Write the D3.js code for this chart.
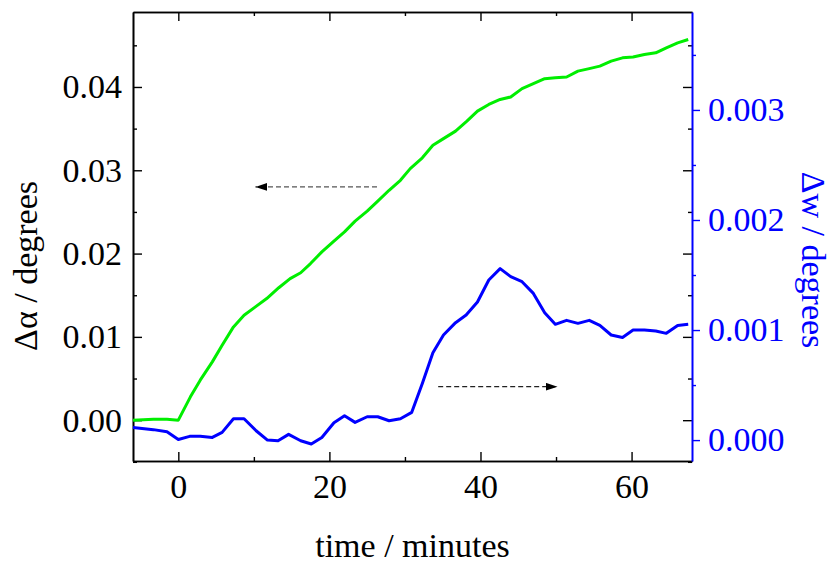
<!DOCTYPE html>
<html>
<head>
<meta charset="utf-8">
<title>delta alpha and delta w vs time</title>
<script src="https://d3js.org/d3.v7.min.js"></script>
<style>
  body { margin: 0; background: #fff; }
  svg text { font-family: "Liberation Serif", "Times New Roman", serif; }
</style>
</head>
<body>
<script>
// time (minutes) and the two measured series
var timeAlpha = [-6, -3.3, -1.5, 0, 1.6, 2.9, 4.5, 5.8, 7.3, 8.7, 10.2, 11.7, 13.3, 14.8, 16.2, 17.5, 19.0, 20.6, 22.0, 23.4, 25.0, 26.3, 27.9, 29.4, 30.7, 32.3, 33.7, 35.1, 36.7, 38.2, 39.6, 41.1, 42.6, 44.0, 45.5, 47.0, 48.5, 49.9, 51.4, 52.9, 54.4, 55.8, 57.3, 58.8, 60.2, 61.7, 63.2, 64.6, 66.1, 67.5];
var dAlpha = [0.0000, 0.0001, 0.0001, 0.0000, 0.0028, 0.0048, 0.0070, 0.0090, 0.0112, 0.0126, 0.0136, 0.0146, 0.0159, 0.0170, 0.0177, 0.0188, 0.0202, 0.0215, 0.0226, 0.0239, 0.0251, 0.0262, 0.0276, 0.0288, 0.0302, 0.0315, 0.0330, 0.0338, 0.0347, 0.0359, 0.0371, 0.0379, 0.0385, 0.0388, 0.0398, 0.0404, 0.0410, 0.0411, 0.0412, 0.0419, 0.0422, 0.0425, 0.0431, 0.0435, 0.0436, 0.0439, 0.0441, 0.0447, 0.0453, 0.0457];

var timeW = [-6, -3.3, -1.5, 0, 1.5, 2.9, 4.5, 5.8, 7.3, 8.7, 10.3, 11.8, 13.2, 14.6, 16.2, 17.6, 19.0, 20.6, 22.0, 23.4, 25.0, 26.4, 27.9, 29.4, 30.9, 32.3, 33.7, 35.1, 36.7, 38.1, 39.6, 41.1, 42.6, 44.0, 45.5, 47.0, 48.5, 49.9, 51.4, 52.9, 54.4, 55.8, 57.3, 58.8, 60.2, 61.7, 63.2, 64.6, 66.1, 67.5];
var dW = [0.000115, 0.000095, 0.000076, 0.000006, 0.000034, 0.000034, 0.000024, 0.00007, 0.000194, 0.000194, 0.000085, 0.0, -0.000006, 0.000052, -0.000006, -0.000036, 0.000024, 0.000158, 0.000221, 0.000161, 0.000212, 0.000212, 0.000176, 0.000194, 0.000252, 0.000515, 0.000794, 0.000955, 0.001067, 0.001136, 0.001255, 0.001455, 0.001558, 0.001485, 0.001439, 0.001333, 0.001158, 0.001052, 0.001088, 0.001061, 0.001088, 0.001042, 0.000955, 0.000933, 0.001, 0.001, 0.000991, 0.00097, 0.001042, 0.001052];

var xTicks = [0, 20, 40, 60];
var xMinor = [10, 30, 50];
var leftTicks = [0, 0.01, 0.02, 0.03, 0.04];
var leftMinor = [-0.005, 0.005, 0.015, 0.025, 0.035, 0.045];
var rightTicks = [0, 0.001, 0.002, 0.003];
var rightMinor = [0.0005, 0.0015, 0.0025, 0.0035];

// arrows: [x from, x to, y]
var arrowAlpha = [26.3, 10.2, 0.028];
var arrowW = [34.4, 50.2, 0.000485];

var W = 831, H = 563;
var m = {left: 133, top: 12, right: 139, bottom: 102};
var iw = W - m.left - m.right, ih = H - m.top - m.bottom;
var fs = "34px";

var svg = d3.select("body").append("svg").attr("width", W).attr("height", H);
var g = svg.append("g").attr("transform", "translate(" + m.left + "," + m.top + ")");

var x = d3.scaleLinear().domain([-6, 68]).range([0, iw]);
var yL = d3.scaleLinear().domain([-0.0049, 0.049]).range([ih, 0]);
var yR = d3.scaleLinear().domain([-0.00019, 0.00389]).range([ih, 0]);

var black = "#000", blue = "#0000ff", green = "#00ee00";

// draws one axis group; size < 0 means ticks point into the plot
function axis(gen, scale, vals, size, pad, fmt, tx, ty) {
  var a = gen(scale).tickValues(vals).tickSizeInner(size).tickSizeOuter(0);
  if (fmt) a.tickPadding(pad).tickFormat(fmt); else a.tickFormat("");
  return g.append("g").attr("transform", "translate(" + tx + "," + ty + ")").call(a);
}

var bMaj = axis(d3.axisBottom, x, xTicks, -9, 13, d3.format("d"), 0, ih);
var bMin = axis(d3.axisBottom, x, xMinor, -4, 0, null, 0, ih);
var tMaj = axis(d3.axisTop, x, xTicks, -9, 0, null, 0, 0);
var tMin = axis(d3.axisTop, x, xMinor, -4, 0, null, 0, 0);
var lMaj = axis(d3.axisLeft, yL, leftTicks, -9, 11, d3.format(".2f"), 0, 0);
var lMin = axis(d3.axisLeft, yL, leftMinor, -4, 0, null, 0, 0);
var mMaj = axis(d3.axisRight, yL, leftTicks, -9, 0, null, iw, 0);
var mMin = axis(d3.axisRight, yL, leftMinor, -4, 0, null, iw, 0);
var rMaj = axis(d3.axisRight, yR, rightTicks, 8, 8, d3.format(".3f"), iw, 0);
var rMin = axis(d3.axisRight, yR, rightMinor, 4, 0, null, iw, 0);

g.selectAll(".domain").attr("stroke", black).attr("stroke-width", 1.6);
g.selectAll(".tick line").attr("stroke", black).attr("stroke-width", 1.4);
g.selectAll(".tick text").attr("fill", black).style("font-size", fs);
[mMaj, mMin, rMin].forEach(function(s) { s.select(".domain").remove(); });
[rMaj, rMin].forEach(function(s) {
  s.selectAll(".domain").attr("stroke", blue).attr("stroke-width", 2);
  s.selectAll(".tick line").attr("stroke", blue);
  s.selectAll(".tick text").attr("fill", blue);
});

// curves
var lineA = d3.line().x(function(d, i) { return x(timeAlpha[i]); }).y(function(d) { return yL(d); });
var lineW = d3.line().x(function(d, i) { return x(timeW[i]); }).y(function(d) { return yR(d); });

g.append("path").datum(dAlpha).attr("d", lineA)
  .attr("fill", "none").attr("stroke", green).attr("stroke-width", 3).attr("stroke-linejoin", "round");
g.append("path").datum(dW).attr("d", lineW)
  .attr("fill", "none").attr("stroke", blue).attr("stroke-width", 3).attr("stroke-linejoin", "round");
rMaj.raise();

// arrows
svg.append("defs").append("marker")
  .attr("id", "head").attr("viewBox", "0 0 12 8").attr("refX", 12).attr("refY", 4)
  .attr("markerWidth", 12).attr("markerHeight", 8).attr("markerUnits", "userSpaceOnUse")
  .attr("orient", "auto")
  .append("path").attr("d", "M0,0L12,4L0,8Z").attr("fill", "#000");

g.append("line")
  .attr("x1", x(arrowAlpha[0])).attr("x2", x(arrowAlpha[1]))
  .attr("y1", yL(arrowAlpha[2])).attr("y2", yL(arrowAlpha[2]))
  .attr("stroke", "#555").attr("stroke-width", 1.2).attr("stroke-dasharray", "5,3")
  .attr("marker-end", "url(#head)");
g.append("line")
  .attr("x1", x(arrowW[0])).attr("x2", x(arrowW[1]))
  .attr("y1", yR(arrowW[2])).attr("y2", yR(arrowW[2]))
  .attr("stroke", "#222").attr("stroke-width", 1.2).attr("stroke-dasharray", "5,3")
  .attr("marker-end", "url(#head)");

// axis titles
svg.append("text").attr("x", m.left + iw / 2).attr("y", 557)
  .attr("text-anchor", "middle").style("font-size", fs).text("time / minutes");
svg.append("text").attr("transform", "translate(37,266) rotate(-90)")
  .attr("text-anchor", "middle").style("font-size", fs).text("Δα / degrees");
svg.append("text").attr("transform", "translate(802,260) rotate(90)")
  .attr("text-anchor", "middle").attr("fill", blue).style("font-size", fs).text("Δw / degrees");
</script>
</body>
</html>
